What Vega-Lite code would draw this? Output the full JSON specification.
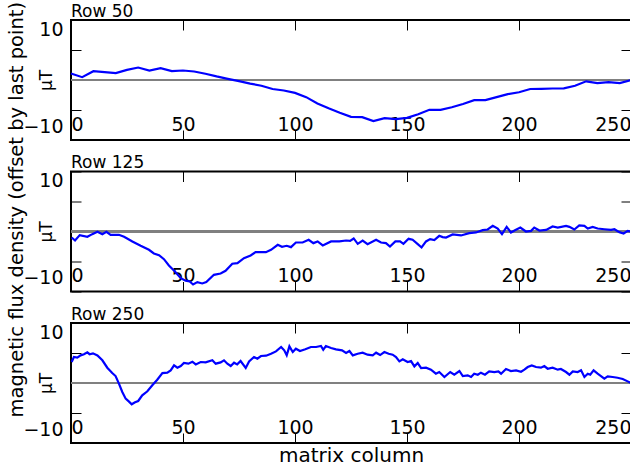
{
  "$schema": "https://vega.github.io/schema/vega-lite/v6.json",
  "padding": {"left": 7, "top": 1, "right": 0, "bottom": 0},
  "spacing": 31.5,
  "bounds": "flush",
  "title": {"text": "magnetic flux density (offset by last point)", "orient": "left", "anchor": "middle", "frame": "bounds", "fontSize": 19.5, "offset": -6, "dx": 24},
  "config": {
    "view": {"stroke": "black", "strokeWidth": 2},
    "font": "DejaVu Sans",
    "axis": {"domain": false, "grid": false, "tickColor": "black", "labelColor": "black", "titleColor": "black", "labelFont": "DejaVu Sans", "titleFont": "DejaVu Sans", "titleFontWeight": "normal"},
    "title": {"font": "DejaVu Sans", "fontWeight": "normal", "fontSize": 17, "anchor": "start", "frame": "group", "color": "black", "offset": -1}
  },
  "datasets": {
    "r50": [
      {"column": 0, "value": 1.08}, {"column": 5, "value": 0.47}, {"column": 10, "value": 1.47}, {"column": 15, "value": 1.3}, {"column": 20, "value": 1.14},
      {"column": 25, "value": 1.69}, {"column": 30, "value": 2.08}, {"column": 35, "value": 1.58}, {"column": 40, "value": 1.97}, {"column": 45, "value": 1.47},
      {"column": 50, "value": 1.58}, {"column": 55, "value": 1.42}, {"column": 60, "value": 1.05}, {"column": 65, "value": 0.6}, {"column": 70, "value": 0.2},
      {"column": 75, "value": -0.2}, {"column": 80, "value": -0.6}, {"column": 85, "value": -0.95}, {"column": 90, "value": -1.5}, {"column": 95, "value": -1.75},
      {"column": 100, "value": -2.15}, {"column": 105, "value": -2.86}, {"column": 110, "value": -3.9}, {"column": 115, "value": -4.7}, {"column": 120, "value": -5.45},
      {"column": 125, "value": -6.14}, {"column": 130, "value": -6.19}, {"column": 135, "value": -6.86}, {"column": 140, "value": -6.36}, {"column": 145, "value": -6.53},
      {"column": 150, "value": -6.31}, {"column": 155, "value": -5.7}, {"column": 160, "value": -4.97}, {"column": 165, "value": -4.97}, {"column": 170, "value": -4.55},
      {"column": 175, "value": -4.0}, {"column": 180, "value": -3.36}, {"column": 185, "value": -3.36}, {"column": 190, "value": -2.85}, {"column": 195, "value": -2.35},
      {"column": 200, "value": -2.05}, {"column": 205, "value": -1.5}, {"column": 210, "value": -1.47}, {"column": 215, "value": -1.42}, {"column": 220, "value": -1.38},
      {"column": 225, "value": -0.95}, {"column": 230, "value": -0.22}, {"column": 235, "value": -0.53}, {"column": 240, "value": -0.36}, {"column": 245, "value": -0.53},
      {"column": 250, "value": 0}
    ],
    "r125": [
      {"column": 0.3, "value": -1.0}, {"column": 1.8, "value": -1.5}, {"column": 3.9, "value": -0.6}, {"column": 7.3, "value": -0.88}, {"column": 9.5, "value": -0.44},
      {"column": 11.8, "value": -0.05}, {"column": 14, "value": -0.44}, {"column": 15.8, "value": -0.05}, {"column": 17.7, "value": -0.55}, {"column": 21.4, "value": -0.55},
      {"column": 23.7, "value": -0.88}, {"column": 27.4, "value": -1.66}, {"column": 31.1, "value": -2.38}, {"column": 34.8, "value": -3.05}, {"column": 37, "value": -3.66},
      {"column": 39.3, "value": -3.94}, {"column": 41.5, "value": -4.61}, {"column": 43.7, "value": -5.66}, {"column": 46.4, "value": -6.66}, {"column": 49, "value": -7.77},
      {"column": 51.2, "value": -8.2}, {"column": 53, "value": -8.33}, {"column": 54.5, "value": -8.83}, {"column": 56.4, "value": -8.44}, {"column": 58.6, "value": -8.66},
      {"column": 60.4, "value": -8.44}, {"column": 63.8, "value": -7.22}, {"column": 66.8, "value": -7.0}, {"column": 69, "value": -6.55}, {"column": 72, "value": -5.38},
      {"column": 74.3, "value": -5.27}, {"column": 77.2, "value": -4.44}, {"column": 80.2, "value": -4.0}, {"column": 82.4, "value": -3.44}, {"column": 87, "value": -3.44},
      {"column": 89.3, "value": -3.05}, {"column": 92.3, "value": -2.22}, {"column": 94.2, "value": -2.55}, {"column": 96.3, "value": -2.38}, {"column": 98.2, "value": -2.61},
      {"column": 100.4, "value": -1.83}, {"column": 103.4, "value": -1.83}, {"column": 106.1, "value": -1.38}, {"column": 108.2, "value": -1.94}, {"column": 110.1, "value": -1.66},
      {"column": 112.4, "value": -2.33}, {"column": 116.1, "value": -1.66}, {"column": 119.8, "value": -1.66}, {"column": 122.8, "value": -1.5}, {"column": 124.6, "value": -1.55},
      {"column": 126.2, "value": -1.16}, {"column": 128, "value": -2.05}, {"column": 130.2, "value": -1.5}, {"column": 132.4, "value": -2.11}, {"column": 136.2, "value": -1.38},
      {"column": 138.4, "value": -1.83}, {"column": 140.6, "value": -1.94}, {"column": 142.4, "value": -2.5}, {"column": 144.8, "value": -1.66}, {"column": 146.9, "value": -1.66},
      {"column": 148.4, "value": -2.05}, {"column": 150.7, "value": -1.22}, {"column": 152.5, "value": -1.38}, {"column": 154.8, "value": -2.11}, {"column": 156.5, "value": -2.66},
      {"column": 158.5, "value": -1.66}, {"column": 160.3, "value": -1.27}, {"column": 162.2, "value": -1.44}, {"column": 164.4, "value": -0.72}, {"column": 165.9, "value": -0.94},
      {"column": 167.4, "value": -1.0}, {"column": 170.4, "value": -0.5}, {"column": 174.1, "value": -0.66}, {"column": 177.8, "value": -0.27}, {"column": 180.8, "value": -0.16},
      {"column": 183.8, "value": 0.22}, {"column": 186, "value": 0.33}, {"column": 188.3, "value": 0.94}, {"column": 190.5, "value": 0.5}, {"column": 192.4, "value": -0.44},
      {"column": 194.5, "value": 0.77}, {"column": 196.4, "value": -0.16}, {"column": 198.2, "value": 0.22}, {"column": 200.6, "value": 0.66}, {"column": 203.1, "value": 0},
      {"column": 205.4, "value": 0.11}, {"column": 206.8, "value": 0.66}, {"column": 209.1, "value": 0.16}, {"column": 212.1, "value": 0.27}, {"column": 215, "value": 0.83},
      {"column": 217.3, "value": 0.66}, {"column": 221, "value": 0.94}, {"column": 222.5, "value": 0.77}, {"column": 224.7, "value": 0.33}, {"column": 226.9, "value": 1.0},
      {"column": 229.2, "value": 0.94}, {"column": 230.7, "value": 0.5}, {"column": 232.9, "value": 0.77}, {"column": 235.1, "value": 0.5}, {"column": 238.1, "value": 0.38},
      {"column": 241.1, "value": 0.27}, {"column": 242.6, "value": 0.38}, {"column": 244.8, "value": -0.11}, {"column": 246.7, "value": -0.33}, {"column": 248.5, "value": 0.11},
      {"column": 250, "value": 0}
    ],
    "r250": [
      {"column": 0.3, "value": 3.5}, {"column": 1.3, "value": 4.33}, {"column": 2.8, "value": 4.22}, {"column": 4.3, "value": 4.61}, {"column": 5.8, "value": 4.78},
      {"column": 7.3, "value": 5.11}, {"column": 8.3, "value": 4.8}, {"column": 9.8, "value": 4.94}, {"column": 11.8, "value": 4.6}, {"column": 14, "value": 3.78},
      {"column": 16.2, "value": 2.55}, {"column": 18.4, "value": 1.66}, {"column": 19.9, "value": 1.16}, {"column": 21.4, "value": -0.11}, {"column": 22.9, "value": -1.5},
      {"column": 24.4, "value": -2.61}, {"column": 25.9, "value": -3.11}, {"column": 27.1, "value": -3.55}, {"column": 28.6, "value": -3.22}, {"column": 30, "value": -3.0},
      {"column": 31.8, "value": -2.05}, {"column": 34.1, "value": -1.38}, {"column": 36.3, "value": -0.38}, {"column": 38.5, "value": 0.55}, {"column": 40.8, "value": 1.66},
      {"column": 43, "value": 1.72}, {"column": 44.5, "value": 2.11}, {"column": 46, "value": 2.94}, {"column": 47.5, "value": 2.55}, {"column": 49, "value": 2.83},
      {"column": 50.4, "value": 3.33}, {"column": 52.4, "value": 3.22}, {"column": 54.2, "value": 3.55}, {"column": 55.7, "value": 3.1}, {"column": 57.9, "value": 3.5},
      {"column": 60.1, "value": 3.44}, {"column": 63.1, "value": 3.78}, {"column": 64.6, "value": 3.22}, {"column": 66.8, "value": 3.44}, {"column": 68.3, "value": 3.78},
      {"column": 69.8, "value": 3.22}, {"column": 71.3, "value": 2.83}, {"column": 72.8, "value": 3.38}, {"column": 74.2, "value": 3.1}, {"column": 75.7, "value": 3.66},
      {"column": 78, "value": 2.5}, {"column": 79.5, "value": 3.6}, {"column": 81.7, "value": 4.33}, {"column": 83.2, "value": 4.05}, {"column": 84.8, "value": 4.5},
      {"column": 87.1, "value": 4.55}, {"column": 89.3, "value": 4.88}, {"column": 91.5, "value": 5.27}, {"column": 93.8, "value": 6.0}, {"column": 95.2, "value": 5.44},
      {"column": 96.3, "value": 4.61}, {"column": 97.5, "value": 6.11}, {"column": 99, "value": 5.16}, {"column": 100.4, "value": 5.72}, {"column": 102.2, "value": 5.33},
      {"column": 104.6, "value": 5.61}, {"column": 107.1, "value": 6.0}, {"column": 109.4, "value": 6.0}, {"column": 111.6, "value": 6.16}, {"column": 112.6, "value": 5.55},
      {"column": 113.8, "value": 6.16}, {"column": 116.1, "value": 5.83}, {"column": 118.3, "value": 5.61}, {"column": 121, "value": 5.44}, {"column": 122.8, "value": 5.0},
      {"column": 124.3, "value": 5.33}, {"column": 125.8, "value": 4.61}, {"column": 128, "value": 4.88}, {"column": 130.2, "value": 5.05}, {"column": 132.4, "value": 4.72},
      {"column": 134.7, "value": 4.61}, {"column": 136.2, "value": 5.05}, {"column": 138, "value": 4.66}, {"column": 139.9, "value": 5.16}, {"column": 141.8, "value": 4.88},
      {"column": 143.6, "value": 4.72}, {"column": 145.1, "value": 4.33}, {"column": 146.6, "value": 3.61}, {"column": 148.1, "value": 3.94}, {"column": 150.3, "value": 3.5},
      {"column": 151.8, "value": 3.66}, {"column": 153.3, "value": 2.77}, {"column": 154.8, "value": 3.33}, {"column": 156.3, "value": 2.5}, {"column": 158.5, "value": 2.55},
      {"column": 160.7, "value": 2.22}, {"column": 162.9, "value": 1.55}, {"column": 164.4, "value": 1.83}, {"column": 166.7, "value": 1.0}, {"column": 169.3, "value": 1.83},
      {"column": 171.1, "value": 1.38}, {"column": 173.4, "value": 2.0}, {"column": 174.9, "value": 1.16}, {"column": 177.1, "value": 1.27}, {"column": 178.6, "value": 1.0},
      {"column": 180, "value": 1.55}, {"column": 181.6, "value": 1.38}, {"column": 183, "value": 1.72}, {"column": 184.8, "value": 1.38}, {"column": 186.7, "value": 1.94},
      {"column": 189, "value": 1.83}, {"column": 190.8, "value": 1.94}, {"column": 192, "value": 1.55}, {"column": 194.2, "value": 2.33}, {"column": 196.4, "value": 2.0},
      {"column": 198.7, "value": 2.11}, {"column": 200.9, "value": 1.88}, {"column": 202.4, "value": 2.22}, {"column": 203.9, "value": 2.66}, {"column": 205.7, "value": 2.94},
      {"column": 207.6, "value": 2.66}, {"column": 209.8, "value": 2.55}, {"column": 211.3, "value": 2.83}, {"column": 212.8, "value": 2.38}, {"column": 215, "value": 2.55},
      {"column": 217.3, "value": 2.22}, {"column": 218.7, "value": 2.33}, {"column": 221, "value": 1.83}, {"column": 222.5, "value": 1.38}, {"column": 224, "value": 1.94},
      {"column": 226.2, "value": 1.83}, {"column": 227.7, "value": 2.11}, {"column": 229.2, "value": 1.0}, {"column": 230.7, "value": 1.55}, {"column": 231.8, "value": 1.38},
      {"column": 233.3, "value": 2.11}, {"column": 235.1, "value": 1.55}, {"column": 236.6, "value": 1.16}, {"column": 238.1, "value": 0.72}, {"column": 239.6, "value": 1.11},
      {"column": 241.8, "value": 1.0}, {"column": 244, "value": 0.88}, {"column": 246.3, "value": 0.66}, {"column": 248.5, "value": 0.27}, {"column": 250, "value": 0}
    ]
  },
  "vconcat": [
    {
      "width": 560, "height": 120,
      "title": {"text": "Row 50"},
      "data": {"name": "r50"},
      "resolve": {"axis": {"x": "independent", "y": "independent"}},
      "layer": [
        {"mark": {"type": "rule", "color": "#808080", "strokeWidth": 2},
         "encoding": {"y": {"datum": 0, "type": "quantitative", "scale": {"domain": [-10, 10], "nice": false},
           "axis": {"orient": "right", "values": [-10, -5, 0, 5, 10], "tickSize": -10, "labels": false, "title": null}}}},
        {"mark": {"type": "line", "color": "#0000ff", "strokeWidth": 2.2},
         "encoding": {
           "x": {"field": "column", "type": "quantitative", "scale": {"domain": [0, 250], "nice": false, "zero": false},
             "axis": {"orient": "bottom", "values": [0, 50, 100, 150, 200, 250], "tickSize": -10, "labelFlush": true, "labelFontSize": 19, "labelBaseline": "alphabetic", "labelPadding": 0, "title": null}},
           "y": {"field": "value", "type": "quantitative", "scale": {"domain": [-10, 10], "nice": false},
             "axis": {"orient": "left", "values": [-10, -5, 0, 5, 10], "tickSize": -10, "labelFontSize": 19, "labelPadding": 18,
               "labelExpr": "datum.value == 10 ? '10' : (datum.value == -10 ? '−10' : '')",
               "labelOffset": {"condition": {"test": "datum.value > 0", "value": 9}, "value": -14},
               "title": "μT", "titleFontSize": 17, "titleX": -16, "titleBaseline": "bottom"}}}},
        {"mark": {"type": "line", "strokeOpacity": 0},
         "encoding": {
           "x": {"field": "column", "type": "quantitative", "axis": {"orient": "top", "values": [0, 50, 100, 150, 200, 250], "tickSize": -10, "labels": false, "title": null}},
           "y": {"field": "value", "type": "quantitative", "axis": null}}}
      ]
    },
    {
      "width": 560, "height": 120,
      "title": {"text": "Row 125"},
      "data": {"name": "r125"},
      "resolve": {"axis": {"x": "independent", "y": "independent"}},
      "layer": [
        {"mark": {"type": "rule", "color": "#808080", "strokeWidth": 2},
         "encoding": {"y": {"datum": 0, "type": "quantitative", "scale": {"domain": [-10, 10], "nice": false},
           "axis": {"orient": "right", "values": [-10, -5, 0, 5, 10], "tickSize": -10, "labels": false, "title": null}}}},
        {"mark": {"type": "line", "color": "#0000ff", "strokeWidth": 2.2},
         "encoding": {
           "x": {"field": "column", "type": "quantitative", "scale": {"domain": [0, 250], "nice": false, "zero": false},
             "axis": {"orient": "bottom", "values": [0, 50, 100, 150, 200, 250], "tickSize": -10, "labelFlush": true, "labelFontSize": 19, "labelBaseline": "alphabetic", "labelPadding": 0, "title": null}},
           "y": {"field": "value", "type": "quantitative", "scale": {"domain": [-10, 10], "nice": false},
             "axis": {"orient": "left", "values": [-10, -5, 0, 5, 10], "tickSize": -10, "labelFontSize": 19, "labelPadding": 18,
               "labelExpr": "datum.value == 10 ? '10' : (datum.value == -10 ? '−10' : '')",
               "labelOffset": {"condition": {"test": "datum.value > 0", "value": 9}, "value": -14},
               "title": "μT", "titleFontSize": 17, "titleX": -16, "titleBaseline": "bottom"}}}},
        {"mark": {"type": "line", "strokeOpacity": 0},
         "encoding": {
           "x": {"field": "column", "type": "quantitative", "axis": {"orient": "top", "values": [0, 50, 100, 150, 200, 250], "tickSize": -10, "labels": false, "title": null}},
           "y": {"field": "value", "type": "quantitative", "axis": null}}}
      ]
    },
    {
      "width": 560, "height": 120,
      "title": {"text": "Row 250"},
      "data": {"name": "r250"},
      "resolve": {"axis": {"x": "independent", "y": "independent"}},
      "layer": [
        {"mark": {"type": "rule", "color": "#808080", "strokeWidth": 2},
         "encoding": {"y": {"datum": 0, "type": "quantitative", "scale": {"domain": [-10, 10], "nice": false},
           "axis": {"orient": "right", "values": [-10, -5, 0, 5, 10], "tickSize": -10, "labels": false, "title": null}}}},
        {"mark": {"type": "line", "color": "#0000ff", "strokeWidth": 2.2},
         "encoding": {
           "x": {"field": "column", "type": "quantitative", "scale": {"domain": [0, 250], "nice": false, "zero": false},
             "axis": {"orient": "bottom", "values": [0, 50, 100, 150, 200, 250], "tickSize": -10, "labelFlush": true, "labelFontSize": 19, "labelBaseline": "alphabetic", "labelPadding": 0,
               "title": "matrix column", "titleFontSize": 20, "titleY": 2, "titleBaseline": "top"}},
           "y": {"field": "value", "type": "quantitative", "scale": {"domain": [-10, 10], "nice": false},
             "axis": {"orient": "left", "values": [-10, -5, 0, 5, 10], "tickSize": -10, "labelFontSize": 19, "labelPadding": 18,
               "labelExpr": "datum.value == 10 ? '10' : (datum.value == -10 ? '−10' : '')",
               "labelOffset": {"condition": {"test": "datum.value > 0", "value": 9}, "value": -14},
               "title": "μT", "titleFontSize": 17, "titleX": -16, "titleBaseline": "bottom"}}}},
        {"mark": {"type": "line", "strokeOpacity": 0},
         "encoding": {
           "x": {"field": "column", "type": "quantitative", "axis": {"orient": "top", "values": [0, 50, 100, 150, 200, 250], "tickSize": -10, "labels": false, "title": null}},
           "y": {"field": "value", "type": "quantitative", "axis": null}}}
      ]
    }
  ]
}
